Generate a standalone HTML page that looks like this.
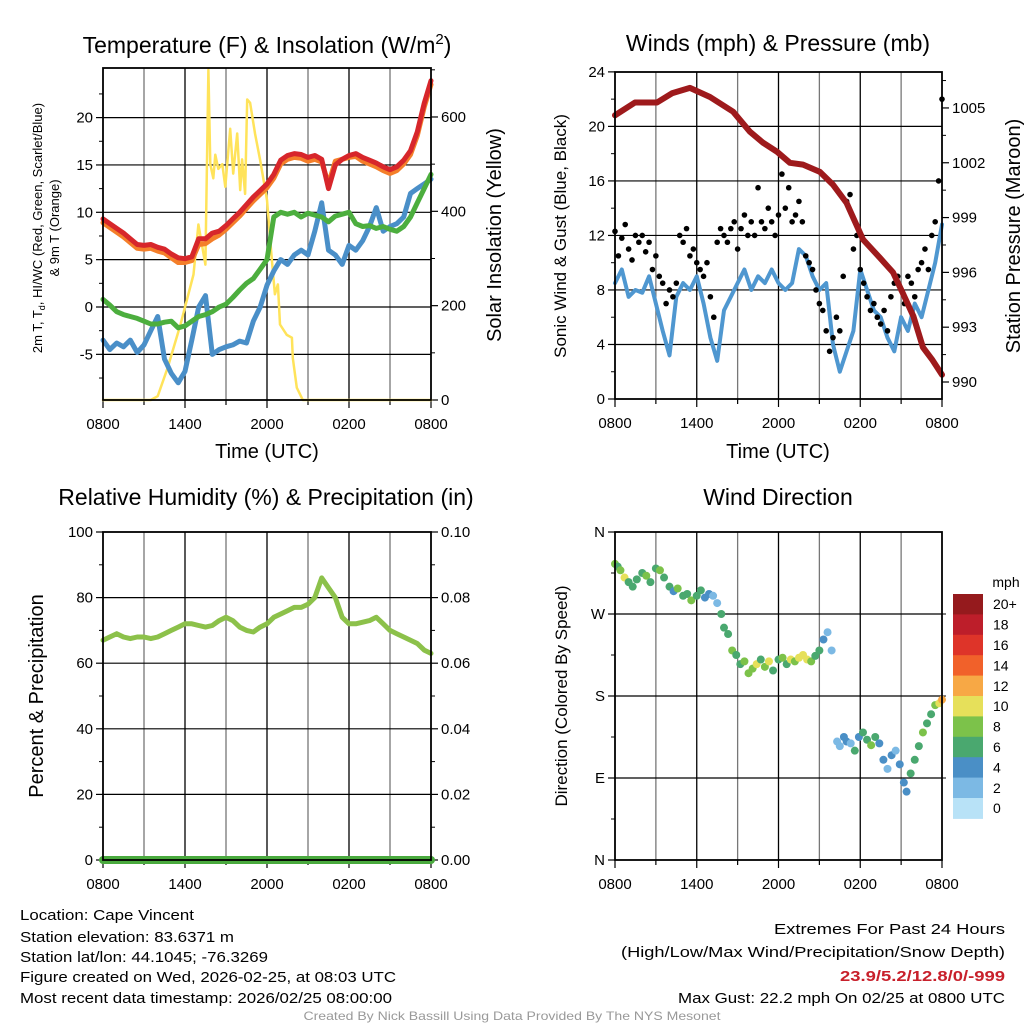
<!DOCTYPE html>
<html><head><meta charset="utf-8"><style>
html,body{margin:0;padding:0;background:#fff;}
svg{display:block;font-family:"Liberation Sans",sans-serif;}
</style></head><body>
<svg id="c" xmlns="http://www.w3.org/2000/svg" width="1024" height="1024" viewBox="0 0 1024 1024">
<rect x="0" y="0" width="1024" height="1024" fill="#fff"/>
<text x="267" y="53" font-size="23" text-anchor="middle">Temperature (F) &amp; Insolation (W/m<tspan dy="-9" font-size="15">2</tspan><tspan dy="9">)</tspan></text>
<text x="778" y="51" font-size="23" text-anchor="middle">Winds (mph) &amp; Pressure (mb)</text>
<text x="266" y="505" font-size="23" text-anchor="middle">Relative Humidity (%) &amp; Precipitation (in)</text>
<text x="778" y="505" font-size="23" text-anchor="middle">Wind Direction</text>
<text x="267" y="458" font-size="20" text-anchor="middle">Time (UTC)</text>
<text x="778" y="458" font-size="20" text-anchor="middle">Time (UTC)</text>
<text transform="translate(42,228) rotate(-90)" font-size="13" text-anchor="middle">2m T, T<tspan dy="3" font-size="9">d</tspan><tspan dy="-3">, HI/WC (Red, Green, Scarlet/Blue)</tspan></text>
<text transform="translate(59,228) rotate(-90)" font-size="13" text-anchor="middle">&amp; 9m T (Orange)</text>
<text transform="translate(501,235) rotate(-90)" font-size="20" text-anchor="middle">Solar Insolation (Yellow)</text>
<text transform="translate(566,236) rotate(-90)" font-size="17" text-anchor="middle">Sonic Wind &amp; Gust (Blue, Black)</text>
<text transform="translate(1020,236) rotate(-90)" font-size="20" text-anchor="middle">Station Pressure (Maroon)</text>
<text transform="translate(43,696) rotate(-90)" font-size="20" text-anchor="middle">Percent &amp; Precipitation</text>
<text transform="translate(567,696) rotate(-90)" font-size="17" text-anchor="middle">Direction (Colored By Speed)</text>
<g font-size="15" font-family="'Liberation Sans Narrow','Liberation Sans',sans-serif">
<text x="20" y="920" textLength="174" lengthAdjust="spacingAndGlyphs">Location: Cape Vincent</text>
<text x="20" y="942" textLength="214" lengthAdjust="spacingAndGlyphs">Station elevation: 83.6371 m</text>
<text x="20" y="962" textLength="248" lengthAdjust="spacingAndGlyphs">Station lat/lon: 44.1045; -76.3269</text>
<text x="20" y="982" textLength="376" lengthAdjust="spacingAndGlyphs">Figure created on Wed, 2026-02-25, at 08:03 UTC</text>
<text x="20" y="1003" textLength="372" lengthAdjust="spacingAndGlyphs">Most recent data timestamp: 2026/02/25 08:00:00</text>
<text x="1005" y="934" text-anchor="end" textLength="231" lengthAdjust="spacingAndGlyphs">Extremes For Past 24 Hours</text>
<text x="1005" y="957" text-anchor="end" textLength="384" lengthAdjust="spacingAndGlyphs">(High/Low/Max Wind/Precipitation/Snow Depth)</text>
<text x="1005" y="981" text-anchor="end" font-weight="bold" fill="#c8202b" textLength="165" lengthAdjust="spacingAndGlyphs">23.9/5.2/12.8/0/-999</text>
<text x="1005" y="1003" text-anchor="end" textLength="327" lengthAdjust="spacingAndGlyphs">Max Gust: 22.2 mph On 02/25 at 0800 UTC</text>
<text x="512" y="1020" text-anchor="middle" font-size="12" fill="#999" textLength="417" lengthAdjust="spacingAndGlyphs">Created By Nick Bassill Using Data Provided By The NYS Mesonet</text>
</g>
</svg>
<script>
// ---------- data ----------
const tempT = [9.3,8.8,8.3,7.8,7.2,6.6,6.5,6.6,6.3,6.1,5.6,5.2,5.1,5.3,7.2,7.2,7.8,8.0,8.6,9.3,10.0,10.8,11.6,12.3,13.0,14.0,15.5,16.0,16.2,16.1,15.8,16.0,15.6,12.5,15.0,15.6,16.0,16.2,15.8,15.5,15.2,14.8,14.5,14.8,15.5,16.5,18.5,21.5,23.9];
const temp9m = [8.9,8.4,7.9,7.4,6.8,6.2,6.1,6.2,5.9,5.7,5.2,4.7,4.7,4.9,6.6,6.7,7.2,7.6,8.2,8.9,9.6,10.4,11.2,11.9,12.6,13.6,15.1,15.6,15.8,15.7,15.4,15.6,15.3,13.0,15.4,15.6,15.8,15.9,15.4,15.1,14.8,14.4,14.1,14.4,15.1,16.1,18.1,21.1,23.5];
const dewpoint = [0.8,0.2,-0.5,-0.8,-1.0,-1.2,-1.5,-1.8,-1.8,-1.6,-1.5,-2.2,-2.0,-1.5,-1.0,-0.8,-0.5,0.0,0.3,1.0,1.8,2.5,3.0,4.0,5.0,9.5,10.0,9.8,10.0,9.5,9.9,9.7,9.5,9.0,9.6,9.8,10.0,8.8,8.5,8.6,8.3,8.5,8.2,8.0,8.5,9.5,11.0,12.5,14.0];
const windChill = [-3.5,-4.5,-3.8,-4.2,-3.5,-4.8,-4.0,-2.5,-1.0,-5.5,-7.0,-8.0,-6.8,-3.5,0.0,1.2,-5.0,-4.5,-4.2,-4.0,-3.6,-3.8,-1.5,0.0,2.3,3.8,5.0,4.5,5.5,6.0,5.5,8.0,11.0,6.0,5.5,4.5,6.5,6.0,7.0,8.5,10.5,8.0,8.5,8.8,9.5,12.0,12.5,13.0,13.5];
const solarHours = [0,3.5,4.0,4.73,5.67,6.62,6.98,7.49,7.71,7.85,8.07,8.22,8.44,8.73,8.95,9.31,9.53,9.82,10.04,10.18,10.4,10.55,10.76,11.13,11.49,12.0,12.36,12.58,12.8,12.95,13.45,13.82,13.89,14.18,14.62,24];
const solarVals = [0,0,8,68,160,266,372,287,700,500,470,520,490,500,452,575,480,565,445,510,437,637,630,564,510,424,296,224,245,160,138,132,89,26,0,0];
const windSpeed = [8.5,9.5,7.5,8,7.8,9,7,5,3.2,7.5,8.5,8,9,7,4.5,2.8,6.5,7.5,8.5,9.5,8,9,8.5,9.5,8.5,8,8.5,11,10.5,9,8,8.5,4,2,3.5,5,9.5,8,6.5,6,4.5,3.5,6,5,7,6,8,10,12.8];
const windGust = [12.3,10.5,11.8,12.8,11,10.2,12,11.5,12,10.8,11.5,9.5,10.5,9,8.5,7,8,7.5,8.5,12,11.5,12.5,10.5,11,10,9.5,9,10,7.5,6,11.5,12.5,12,11.5,12.5,13,11,12.5,13.5,12,13,12,15.5,13,12.5,14,13,12,13.5,16.5,14,15.5,13,13.5,14.5,13,10.5,10,9.5,8,7,6.5,5,3.5,4.5,6,5,9,14.5,15,11,12,9.5,8.5,7.5,6.5,7,6,5.5,6.5,5,7.5,8.5,9,8,7,9,8.5,7.5,9.5,10,11,9.5,12,13,16,22];
const pressHours = [0,1.47,3.08,4.18,5.5,6.97,8.66,9.9,10.86,11.9,12.84,13.8,15.04,16,17,18.2,19.44,20.4,21.1,21.9,22.6,23.3,24];
const pressVals = [1004.6,1005.3,1005.3,1005.8,1006.1,1005.6,1004.8,1003.7,1003.1,1002.6,1002.0,1001.9,1001.5,1000.8,999.8,997.8,996.8,996.0,994.9,993.6,991.9,991.2,990.4];
const humidity = [67,68,69,68,67.5,68,68,67.5,68,69,70,71,72,72,71.5,71,71.5,73,74,73,71,70,69.5,71,72,74,75,76,77,77,78,80,86,83,80,74,72,72,72.5,73,74,72,70,69,68,67,66,64,63];
const precip = [0,0,0,0,0,0,0,0,0,0,0,0,0,0,0,0,0,0,0,0,0,0,0,0,0];
const dirHours = [0,0.2,0.4,0.7,1,1.3,1.6,2,2.3,2.6,3,3.3,3.6,4,4.3,4.6,5,5.3,5.6,6,6.3,6.6,6.9,7.2,7.5,7.8,8,8.3,8.6,8.9,9.2,9.5,9.8,10.1,10.4,10.7,11,11.3,11.6,12,12.3,12.6,12.9,13.2,13.5,13.8,14.1,14.4,14.7,15,15.3,15.6,15.9,16.3,16.5,16.8,17,17.3,17.6,17.9,18.2,18.5,18.8,19.1,19.4,19.7,20,20.3,20.6,20.9,21.2,21.4,21.7,22,22.3,22.6,22.9,23.2,23.5,23.8,24];
const dirVals = [325,322,318,310,305,300,308,315,312,305,320,318,310,300,295,298,290,292,285,290,296,288,292,290,282,270,255,248,230,225,215,218,205,210,215,220,212,218,208,220,222,215,220,218,222,225,220,218,224,230,242,250,230,130,125,135,130,128,120,135,140,132,126,135,128,110,100,115,120,105,85,75,95,110,125,140,150,160,170,172,176];
const dirSpeed = [8,6,8,10,6,6,6,7,8,6,7,8,6,6,4,8,6,7,8,6,7,5,4,3,2,6,6,7,8,7,7,9,8,8,10,7,8,11,6,7,8,6,10,9,11,10,10,9,7,6,4,3,2,3,2,5,4,3,6,5,6,7,9,6,5,4,3,4,3,4,5,4,6,6,7,8,7,6,9,10,12];
const speedColors = ["#b8e2f7","#7cb9e4","#4a8fc6","#4aa86f","#7cc24a","#e6e05a","#f7a845","#f1612a","#de3429","#bd1e2a","#951a1d"];
const speedLabels = ["0","2","4","6","8","10","12","14","16","18","20+"];
const tempTicks = [-5,0,5,10,15,20];
const solarTicks = [0,200,400,600];
const windTicks = [0,4,8,12,16,20,24];
const pressTicks = [990,993,996,999,1002,1005];
const rhTicks = [0,20,40,60,80,100];
const precipTicks = ["0.00","0.02","0.04","0.06","0.08","0.10"];
const dirTicks = [0,90,180,270,360];
const dirLabels = ["N","E","S","W","N"];
const timeLabels = ["0800","1400","2000","0200","0800"];

// ---------- scales ----------
const L = {x0:103, x1:431}, R = {x0:615, x1:942};
const XL = h => L.x0 + h*(L.x1-L.x0)/24;
const XR = h => R.x0 + h*(R.x1-R.x0)/24;
const YT = t => 307 - t*9.47;
const YS = w => 400 - w*0.4717;
const YW = w => 399 - w*13.63;
const YP = p => 382 - (p-990)*18.27;
const YH = r => 860 - r*3.28;
const YPr = p => 860 - p*3280;
const YD = d => 860 - d*0.9111;

const svg = document.getElementById('c');
const NS = 'http://www.w3.org/2000/svg';
function mk(tag, attrs, parent){
  const el = document.createElementNS(NS, tag);
  for (const k in attrs) el.setAttribute(k, attrs[k]);
  (parent||svg).appendChild(el);
  return el;
}
function group(name){
  const g = mk('g', {});
  
  
  return g;
}

function panel(name, x0, x1, y0, y1, Xf, hGrid, Yf){
  const g = group(name + '-grid');
  for (let h = 3; h < 24; h += 3){
    const el = mk('line', {x1:Xf(h), x2:Xf(h), y1:y0, y2:y1, stroke:(h%6===0?'#000':'#777'), 'stroke-width':1.3}, g);
    
    
  }
  hGrid.forEach(v => {
    const y = Yf(v);
    if (y <= y0+1 || y >= y1-1) return;
    const el = mk('line', {x1:x0, x2:x1, y1:y, y2:y, stroke:'#000', 'stroke-width':1.2}, g);
    
    
  });
  for (let h = 0; h <= 24; h += 3){
    const t = mk('line', {x1:Xf(h), x2:Xf(h), y1:y1, y2:y1+(h%6===0?8:5), stroke:'#000', 'stroke-width':1.2}, g);
    
    
  }
  timeLabels.forEach((lab, i) => {
    const t = mk('text', {x:Xf(i*6), y:y1+29, 'font-size':15, 'text-anchor':'middle'}, g);
    t.textContent = lab;
    
    
  });
  return g;
}
function frame(name, x0, x1, y0, y1){
  const f = mk('rect', {x:x0, y:y0, width:x1-x0, height:y1-y0, fill:'none', stroke:'#000', 'stroke-width':1.8});
  
  
}
function yAxis(g, x, ticks, labels, Yf, side, minor){
  ticks.forEach((v, i) => {
    const y = Yf(v);
    const t = mk('line', {x1:x, x2:x+(side<0?-7:7), y1:y, y2:y, stroke:'#000', 'stroke-width':1.2}, g);
    
    
    const lab = mk('text', {x:x+(side<0?-10:10), y:y+5, 'font-size':15, 'text-anchor':(side<0?'end':'start')}, g);
    lab.textContent = labels[i];
    
    
  });
  (minor||[]).forEach(v => {
    const y = Yf(v);
    const t = mk('line', {x1:x, x2:x+(side<0?-4:4), y1:y, y2:y, stroke:'#000', 'stroke-width':1}, g);
    
    
  });
}
function line(g, name, xs, ys, color, w){
  const p = mk('polyline', {points: xs.map((x,i)=>x.toFixed(1)+','+ys[i].toFixed(1)).join(' '), fill:'none', stroke:color, 'stroke-width':w, 'stroke-linejoin':'round', 'stroke-linecap':'round'}, g);
  
  
  return p;
}
const idxH = (arr) => arr.map((_, i) => i*24/(arr.length-1));

// ---------- Panel 1: temperature ----------
const g1 = panel('temperature', L.x0, L.x1, 68, 400, XL, tempTicks, YT);
yAxis(g1, L.x0, tempTicks, tempTicks.map(String), YT, -1, [-7.5,-2.5,2.5,7.5,12.5,17.5,22.5]);
yAxis(g1, L.x1, solarTicks, solarTicks.map(String), YS, 1, [100,300,500,700]);
const gs1 = group('temperature-series');
line(gs1, 'solar-insolation-line', solarHours.map(XL), solarVals.map(YS), '#ffe35a', 2.5);
line(gs1, 'wind-chill-line', idxH(windChill).map(XL), windChill.map(YT), '#4a8fc8', 5);
line(gs1, 'dewpoint-line', idxH(dewpoint).map(XL), dewpoint.map(YT), '#4cae3e', 5);
line(gs1, 'temp-9m-line', idxH(temp9m).map(XL), temp9m.map(YT), '#f47f2a', 5);
line(gs1, 'temp-2m-line', idxH(tempT).map(XL), tempT.map(YT), '#d7262b', 5);
frame('temperature', L.x0, L.x1, 68, 400);

// ---------- Panel 2: winds ----------
const g2 = panel('winds', R.x0, R.x1, 72, 399, XR, windTicks, YW);
yAxis(g2, R.x0, windTicks, windTicks.map(String), YW, -1, [2,6,10,14,18,22]);
yAxis(g2, R.x1, pressTicks, pressTicks.map(String), YP, 1, [991.5,994.5,997.5,1000.5,1003.5,1006.5]);
const gs2 = group('wind-series');
line(gs2, 'sustained-wind-line', idxH(windSpeed).map(XR), windSpeed.map(YW), '#4f97d0', 4);
windGust.forEach((v, i) => {
  const c = mk('circle', {cx:XR(i*24/(windGust.length-1)), cy:YW(v), r:2.8, fill:'#000'}, gs2);
  
  
});
line(gs2, 'pressure-line', pressHours.map(XR), pressVals.map(YP), '#9e1a1c', 6);
frame('winds', R.x0, R.x1, 72, 399);

// ---------- Panel 3: humidity ----------
const g3 = panel('humidity', L.x0, L.x1, 532, 860, XL, rhTicks, YH);
yAxis(g3, L.x0, rhTicks, rhTicks.map(String), YH, -1, [10,30,50,70,90]);
yAxis(g3, L.x1, [0,0.02,0.04,0.06,0.08,0.10], precipTicks, YPr, 1, [0.01,0.03,0.05,0.07,0.09]);
const gs3 = group('humidity-series');
line(gs3, 'relative-humidity-line', idxH(humidity).map(XL), humidity.map(YH), '#8cc14a', 5);
line(gs3, 'precipitation-line', idxH(precip).map(XL), precip.map(YPr), '#4aaa3e', 8);
frame('humidity', L.x0, L.x1, 532, 860);

// ---------- Panel 4: wind direction ----------
const g4 = panel('wind-direction', R.x0, R.x1, 532, 860, XR, dirTicks, YD);
yAxis(g4, R.x0, dirTicks, dirLabels, YD, -1, [45,135,225,315]);
yAxis(g4, R.x1, [], [], YD, 1, [90,180,270]);
const gs4 = group('direction-points');
dirVals.forEach((d, i) => {
  const k = Math.max(0, Math.min(10, Math.floor(dirSpeed[i]/2)));
  const c = mk('circle', {cx:XR(dirHours[i]), cy:YD(d), r:4, fill:speedColors[k]}, gs4);
  
  
});
frame('wind-direction', R.x0, R.x1, 532, 860);

// colorbar
const gcb = group('speed-colorbar');
const cbTop = 594, cbH = 20.4;
const mph = mk('text', {x:1006, y:587, 'font-size':14, 'text-anchor':'middle'}, gcb);
mph.textContent = 'mph';


for (let i = 0; i < 11; i++){
  const k = 10 - i;
  const r = mk('rect', {x:953, y:cbTop+i*cbH, width:30, height:cbH+0.5, fill:speedColors[k]}, gcb);
  
  
  const t = mk('text', {x:993, y:cbTop+i*cbH+cbH/2+5, 'font-size':14}, gcb);
  t.textContent = speedLabels[k];
  
  
}
</script>
</body></html>
